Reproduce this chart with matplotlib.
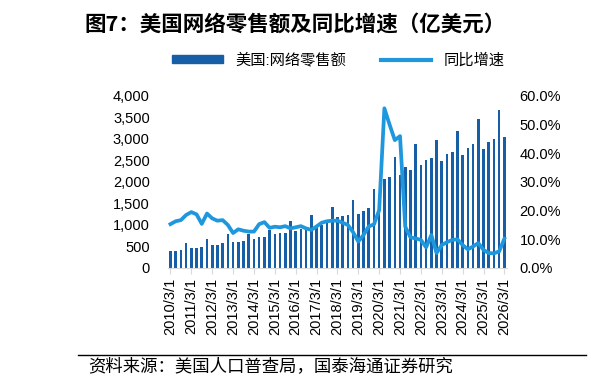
import numpy as np
import matplotlib.pyplot as plt
from matplotlib.lines import Line2D
from matplotlib.patches import Patch
from matplotlib.ticker import FuncFormatter

plt.rcParams['font.family'] = ['Liberation Sans', 'Noto Sans CJK SC', 'DejaVu Sans']

# quarterly, 2010Q1 .. 2026Q1 (亿美元)
sales = [390, 390, 430, 570, 460, 460, 490, 670, 530, 530, 570, 780,
         600, 600, 630, 800, 670, 710, 710, 880, 780, 820, 820, 1090,
         860, 910, 920, 1230, 940, 1000, 1050, 1410, 1180, 1210, 1230, 1580,
         1250, 1330, 1400, 1830, 1480, 2060, 2110, 2590, 2160, 2340, 2280, 2880,
         2390, 2510, 2550, 2980, 2490, 2660, 2700, 3190, 2630, 2800, 2880, 3460,
         2760, 2940, 3010, 3675, 3040]
# 同比增速 (%)
yoy = [15.3, 16.3, 16.7, 18.5, 19.5, 18.7, 15.4, 19.0, 17.3, 16.5, 16.7, 15.0,
       12.2, 13.5, 13.0, 12.7, 12.7, 15.3, 16.0, 14.0, 14.4, 14.2, 14.6, 13.8,
       14.2, 14.6, 13.8, 13.3, 14.5, 15.8, 16.3, 16.5, 16.5, 15.8, 15.0, 12.5,
       9.2, 11.5, 14.5, 15.2, 20.2, 55.7, 50.0, 44.6, 46.0, 14.4, 10.7, 10.3,
       9.8, 7.2, 11.5, 5.2, 8.0, 9.0, 9.8, 10.0, 8.0, 6.5, 7.5, 8.7,
       6.3, 5.2, 5.1, 5.8, 10.2]
tick_labels = ['2010/3/1', '2011/3/1', '2012/3/1', '2013/3/1', '2014/3/1',
               '2015/3/1', '2016/3/1', '2017/3/1', '2018/3/1', '2019/3/1',
               '2020/3/1', '2021/3/1', '2022/3/1', '2023/3/1', '2024/3/1',
               '2025/3/1', '2026/3/1']

bar_color = '#165fa6'
line_color = '#1f97dd'

fig = plt.figure(figsize=(6.12, 3.88), dpi=100)
ax = fig.add_axes([0.2743, 0.3093, 0.5541, 0.4433])
x = np.arange(len(sales))
ax.bar(x, sales, width=0.5, color=bar_color, zorder=2)
ax.set_xlim(-0.5, len(sales) - 0.5)
ax.set_ylim(0, 4000)
ax.set_yticks(np.arange(0, 4001, 500))
ax.yaxis.set_major_formatter(FuncFormatter(lambda v, p: f'{v:,.0f}'))
ax.tick_params(axis='y', length=0, pad=13, labelsize=10.5)
ax.set_xticks(x[::4])
ax.set_xticklabels(tick_labels, rotation=90, fontsize=10.5)
ax.tick_params(axis='x', length=4, color='#d9d9d9', pad=3)
for s in ['top', 'left', 'right']:
    ax.spines[s].set_visible(False)
ax.spines['bottom'].set_color('#d9d9d9')

ax2 = ax.twinx()
ax2.plot(x, np.array(yoy) / 100, color=line_color, lw=2.7, solid_joinstyle='round')
ax2.set_ylim(0, 0.6)
ax2.set_yticks(np.arange(0, 0.61, 0.1))
ax2.yaxis.set_major_formatter(FuncFormatter(lambda v, p: f'{v * 100:.1f}%'))
ax2.tick_params(axis='y', length=0, pad=9, labelsize=10.5)
for s in ['top', 'left', 'right', 'bottom']:
    ax2.spines[s].set_visible(False)

handles = [Patch(color=bar_color, label='美国:网络零售额'),
           Line2D([], [], color=line_color, lw=3, label='同比增速')]
fig.legend(handles=handles, loc='center', bbox_to_anchor=(0.553, 0.845), ncol=2,
           frameon=False, fontsize=11, handlelength=3.3, handleheight=0.5,
           columnspacing=2.3, handletextpad=0.8)

fig.text(0.138, 0.938, '图7：美国网络零售额及同比增速（亿美元）', fontsize=15.5,
         fontweight='bold', family='Noto Sans CJK SC', va='center')
fig.text(0.144, 0.057, '资料来源：美国人口普查局，国泰海通证券研究', fontsize=12.5,
         family='Noto Sans CJK SC', va='center')
fig.add_artist(Line2D([0.127, 0.958], [0.085, 0.085], transform=fig.transFigure,
                      color='black', lw=1))

fig.savefig('out.png', dpi=100)
